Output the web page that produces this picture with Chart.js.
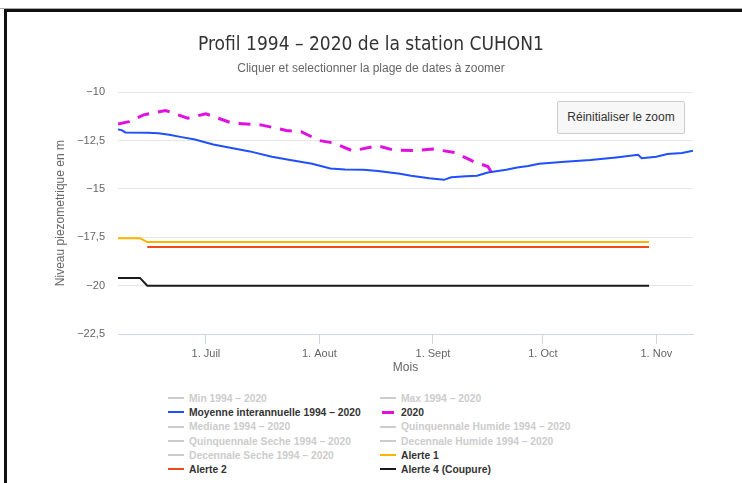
<!DOCTYPE html>
<html lang="fr">
<head>
<meta charset="utf-8">
<script src="https://cdn.jsdelivr.net/npm/chart.js@4.4.1/dist/chart.umd.min.js"></script>
<style>
    html, body { margin: 0; padding: 0; background: #fff; }
    body { width: 742px; height: 483px; position: relative; overflow: hidden; font-family: 'Liberation Sans', Arial, sans-serif; }
    #ligneGrise { position: absolute; left: 0; top: 8px; width: 742px; height: 1px; background: #aaa; }
    #cadre { position: absolute; left: 4px; top: 9px; right: 0; bottom: 0; border-top: 3px solid #111; border-left: 3px solid #111; pointer-events: none; }
    #zone { position: absolute; left: 0; top: 0; }
    #btnZoom {
        position: absolute; left: 557px; top: 101px; width: 128px; height: 33px; box-sizing: border-box;
        background: #f7f7f7; border: 1px solid #ccc; border-radius: 2px;
        font: 12px 'Liberation Sans', Arial, sans-serif; color: #333; text-align: center; line-height: 31px;
    }
    #legende { position: absolute; left: 168px; top: 392px; display: grid; grid-template-columns: 212px 212px; }
    .item { height: 14.2px; line-height: 14.2px; font-weight: bold; font-size: 10.3px; color: #333; white-space: nowrap; }
    .item.cache { color: #ccc; }
    .symbole { display: inline-block; width: 16px; height: 2px; vertical-align: middle; margin-right: 5px; margin-top: -2px; }
</style>
</head>
<body>
<div id="ligneGrise"></div>
<canvas id="zone" width="742" height="385"></canvas>
<div id="btnZoom">Réinitialiser le zoom</div>
<div id="legende"></div>
<div id="cadre"></div>
<script>
// jours de l'annee (1er janv = 0)
const moisJours = [181, 212, 243, 273, 304];
const moisLabels = ['1. Juil', '1. Aout', '1. Sept', '1. Oct', '1. Nov'];

const moyenneJours = [157,158,159,165,168,171,174,178,180,183,188,193,199,204,210,215,219,224,228,234,237,242,246,248,252,255,258,263,266,269,272,279,286,293,299,300,304,307,311,314];
const moyenneNiveaux = [-11.93,-11.96,-12.08,-12.09,-12.12,-12.20,-12.31,-12.45,-12.55,-12.70,-12.88,-13.06,-13.34,-13.50,-13.70,-13.94,-13.99,-14.01,-14.07,-14.22,-14.32,-14.45,-14.53,-14.40,-14.35,-14.32,-14.15,-14.01,-13.89,-13.81,-13.70,-13.60,-13.50,-13.37,-13.24,-13.41,-13.34,-13.20,-13.14,-13.03];

const jours2020 = [157,160,164,170,176,181,188,196,203,207,212,216,221,228,232,238,243,249,254,258,259];
const niveaux2020 = [-11.65,-11.52,-11.17,-10.95,-11.34,-11.12,-11.59,-11.69,-11.98,-12.04,-12.50,-12.63,-13.03,-12.77,-12.98,-13.02,-12.94,-13.12,-13.58,-13.84,-14.15];

const alerte1Jours = [157, 163, 165, 302];
const alerte1Niveaux = [-17.55, -17.55, -17.75, -17.75];
const alerte2Jours = [165, 302];
const alerte2Niveaux = [-18, -18];
const alerte4Jours = [157, 163, 165, 302];
const alerte4Niveaux = [-19.6, -19.6, -20, -20];

const police = "'Liberation Sans', Arial, sans-serif";
const policeTitre = "'Liberation Sans Narrow', 'DejaVu Sans Condensed', 'Liberation Sans', sans-serif";
const pts = (jours, niveaux) => jours.map((j, i) => ({ x: j, y: niveaux[i] }));

const serie = (label, couleur, data, extra = {}) => Object.assign({
    label, data, borderColor: couleur, backgroundColor: couleur,
    borderWidth: 2, pointRadius: 0, tension: 0, fill: false
}, extra);

const datasets = [
    serie('Min 1994 - 2020', '#ccc', [], { hidden: true }),
    serie('Max 1994 - 2020', '#ccc', [], { hidden: true }),
    serie('Moyenne interannuelle 1994 - 2020', '#1f4fff', pts(moyenneJours, moyenneNiveaux)),
    serie('2020', '#e011e0', pts(jours2020, niveaux2020), { borderWidth: 3, borderDash: [12, 9] }),
    serie('Mediane 1994 - 2020', '#ccc', [], { hidden: true }),
    serie('Quinquennale Humide 1994 - 2020', '#ddd', [], { hidden: true }),
    serie('Quinquennale Seche 1994 - 2020', '#ddd', [], { hidden: true }),
    serie('Decennale Humide 1994 - 2020', '#ddd', [], { hidden: true }),
    serie('Decennale Seche 1994 - 2020', '#ddd', [], { hidden: true }),
    serie('Alerte 1', '#fbb500', pts(alerte1Jours, alerte1Niveaux)),
    serie('Alerte 2', '#f04a1a', pts(alerte2Jours, alerte2Niveaux)),
    serie('Alerte 4 (Coupure)', '#1a1a1a', pts(alerte4Jours, alerte4Niveaux))
];
datasets.forEach(d => { d.label = d.label.replace(' - ', ' \u2013 '); });

const chart = new Chart(document.getElementById('zone'), {
    type: 'line',
    data: { datasets },
    options: {
        responsive: false, animation: false, devicePixelRatio: 1,
        layout: { padding: { left: 49, right: 49, top: 34, bottom: 6 } },
        plugins: {
            legend: { display: false },
            tooltip: { enabled: false },
            title: {
                display: true, text: 'Profil 1994 \u2013 2020 de la station CUHON1', color: '#333',
                font: { family: policeTitre, size: 19, weight: 'normal' }, padding: { top: 0, bottom: 5 }
            },
            subtitle: {
                display: true, text: 'Cliquer et selectionner la plage de dates à zoomer', color: '#666',
                font: { family: police, size: 12 }, padding: { top: 0, bottom: 16 }
            }
        },
        scales: {
            x: {
                type: 'linear', min: 157, max: 314,
                afterBuildTicks: (s) => { s.ticks = moisJours.map(v => ({ value: v })); },
                afterFit: (s) => { s.height = 45; },
                ticks: {
                    autoSkip: false, maxRotation: 0, color: '#666', font: { family: police, size: 11 },
                    callback: (v) => moisLabels[moisJours.indexOf(v)]
                },
                grid: { drawOnChartArea: false, drawTicks: true, tickLength: 10, color: '#ccd6eb' },
                border: { color: '#ccd6eb' },
                title: { display: true, text: 'Mois', color: '#666', font: { family: police, size: 12 }, padding: { top: 0, bottom: 4 } }
            },
            y: {
                min: -22.5, max: -10,
                afterFit: (s) => { s.width = 69; },
                ticks: {
                    stepSize: 2.5, padding: 13, color: '#666', font: { family: police, size: 11 },
                    callback: (v) => (v < 0 ? '\u2212' : '') + String(Math.abs(v)).replace('.', ',')
                },
                grid: { color: '#e6e6e6', drawTicks: false },
                border: { display: false },
                title: { display: true, text: 'Niveau piezometrique en m', color: '#666', font: { family: police, size: 12 } }
            }
        }
    }
});

// legende en deux colonnes
const legende = document.getElementById('legende');
chart.data.datasets.forEach(d => {
    const div = document.createElement('div');
    div.className = 'item' + (d.hidden ? ' cache' : '');
    const sym = document.createElement('span');
    sym.className = 'symbole';
    sym.style.background = d.hidden ? '#ccc' : d.borderColor;
    if (d.borderDash) { sym.style.height = '3px'; sym.style.width = '12px'; sym.style.marginLeft = '2px'; sym.style.marginRight = '7px'; }
    div.appendChild(sym);
    div.appendChild(document.createTextNode(d.label));
    legende.appendChild(div);
});
</script>
</body>
</html>
